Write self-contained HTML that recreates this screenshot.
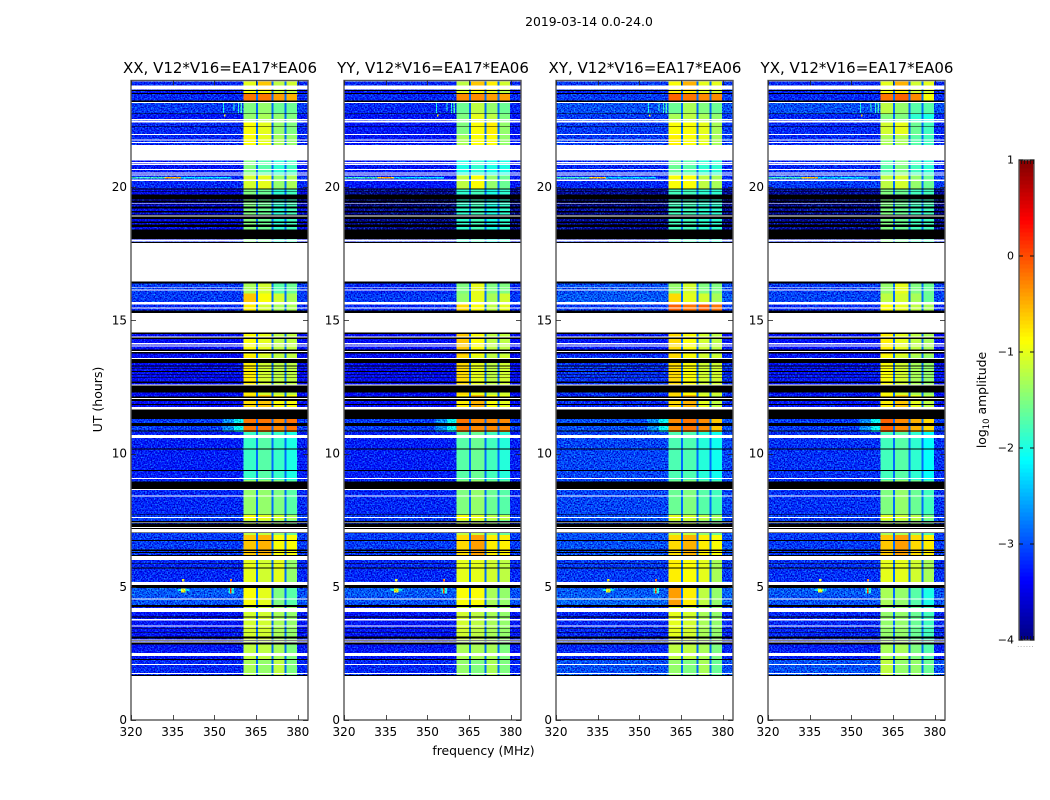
<!DOCTYPE html>
<html lang="en">
<head>
<meta charset="utf-8">
<title>2019-03-14 amplitude spectrogram</title>
<style>
html,body{margin:0;padding:0;background:#fff;}
svg{display:block;}
text{font-family:"DejaVu Sans","Liberation Sans",sans-serif;fill:#000;}
</style>
</head>
<body>
<svg id="fig" xmlns="http://www.w3.org/2000/svg" width="1050" height="800" viewBox="0 0 1050 800">
  <defs>
    <filter id="speckle" x="0" y="0" width="1" height="1" color-interpolation-filters="sRGB">
      <feTurbulence type="fractalNoise" baseFrequency="0.7" numOctaves="1" seed="7" result="n"/>
      <feColorMatrix in="n" type="matrix" values="0.4 0 0 0 0.3  1.5 0 0 0 -0.25  1.2 0 0 0 -0.1  0 0 0 0 1" result="g"/>
      <feComposite in="SourceGraphic" in2="g" operator="arithmetic" k1="0" k2="1" k3="1" k4="-0.5"/>
    </filter>
  </defs>
  <text x="589" y="26" font-size="12.4" text-anchor="middle">2019-03-14 0.0-24.0</text>
  <text x="0" y="0" font-size="12.5" text-anchor="middle" transform="translate(102,399.5) rotate(-90)">UT (hours)</text>
  <text x="483.5" y="755" font-size="12.4" text-anchor="middle">frequency (MHz)</text>
  <g id="panels"></g>
  <g id="colorbar"></g>
  <text font-size="12.4" text-anchor="middle" transform="translate(986,400) rotate(-90)">log<tspan dy="3" font-size="8.5">10</tspan><tspan dy="-3"> amplitude</tspan></text>
  <text x="1026" y="647" font-size="6" letter-spacing="1" text-anchor="middle" style="fill:#666">......</text>
</svg>
<script>
// ---------- chart data ----------
const panelNames = ['XX', 'YY', 'XY', 'YX'];
const baselineLabel = 'V12*V16=EA17*EA06';
const utTicks = [0, 5, 10, 15, 20];
const freqTicks = [320, 335, 350, 365, 380];
const cbarTicks = [-4, -3, -2, -1, 0, 1];
const stripeLevel = -2.85;

// UT-hour edges of the level spans, top to bottom
const spanEdgesUT = [23.96,23.81,23.63,23.51,23.21,22.76,22.50,21.94,21.56,21.00,20.44,19.95,18.00,16.46,16.01,15.68,15.38,14.51,13.69,12.19,11.70,11.33,10.80,9.00,7.69,7.50,6.94,6.00,5.06,4.31,3.00,2.25,1.65];
// sub-band frequency edges (MHz): start,end for each of the four bright sub-bands
const bandEdgesMHz = [[360.5,365],[365.7,370.5],[371.2,375.3],[375.9,379.8]];

// background log10 amplitude per span
const bgXX = [-3.2,-3.2,-3.3,-3.2,-3.1,-3.3,-3.2,-3.2,-3.2,-3.3,-3.2,-3.5,-3.2,-3.1,-3.1,-3.2,-3.2,-3.4,-3.4,-3.4,-3.4,-3.1,-3.25,-3.2,-3.1,-3.1,-3.1,-3.2,-3.0,-3.3,-3.3,-3.2];
const bgYY = [-3.2,-3.2,-3.3,-3.2,-3.2,-3.3,-3.3,-3.3,-3.3,-3.3,-3.3,-3.9,-3.2,-3.2,-3.1,-3.2,-3.2,-3.4,-3.4,-3.4,-3.4,-3.1,-3.25,-3.2,-3.1,-3.1,-3.1,-3.2,-3.0,-3.3,-3.3,-3.2];
const bgXY = [-3.1,-3.1,-3.2,-3.1,-3.0,-3.1,-3.1,-3.1,-3.1,-3.2,-3.2,-3.85,-3.2,-3.0,-2.95,-3.1,-3.1,-3.3,-3.15,-3.2,-3.2,-3.0,-3.05,-3.05,-3.0,-3.0,-3.0,-3.1,-2.9,-3.2,-3.2,-3.0];
const bgYX = [-3.2,-3.2,-3.2,-3.2,-3.0,-3.2,-3.2,-3.2,-3.2,-3.2,-3.1,-3.85,-3.2,-3.1,-3.05,-3.2,-3.2,-3.35,-3.3,-3.3,-3.3,-3.1,-3.15,-3.15,-3.1,-3.1,-3.1,-3.15,-3.0,-3.2,-3.25,-3.0];

// sub-band log10 amplitude per span: one [b1,b2,b3,b4] row per span
const bandsXX = [[-1.0,-0.6,-1.2,-1.1],[-1.0,-0.6,-1.2,-1.1],[-0.9,-0.9,-1.1,-1.2],[-0.2,-0.2,-0.4,-0.5],[-1.5,-1.4,-1.6,-1.6],[-1.4,-1.3,-1.4,-1.5],[-0.9,-1.0,-1.4,-1.5],[-0.9,-1.0,-1.3,-1.4],[-0.9,-1.0,-1.3,-1.4],[-1.5,-1.7,-1.9,-1.8],[-1.1,-1.0,-1.4,-1.3],[-1.5,-1.6,-1.9,-1.8],[-1.5,-1.6,-1.9,-1.8],[-1.3,-1.1,-1.7,-1.6],[-0.6,-0.9,-1.1,-1.3],[-0.8,-1.1,-1.3,-1.3],[-0.8,-1.1,-1.3,-1.3],[-0.9,-1.0,-1.2,-1.2],[-0.8,-1.1,-1.2,-1.2],[-0.7,-0.6,-0.9,-0.9],[-0.7,-0.6,-0.9,-0.9],[-0.2,-0.2,-0.3,-0.2],[-1.85,-1.7,-1.85,-2.0],[-1.4,-1.4,-1.5,-1.7],[-0.9,-1.0,-1.1,-1.3],[-1.2,-1.2,-1.4,-1.6],[-0.6,-0.5,-0.9,-0.9],[-1.0,-1.1,-1.0,-1.4],[-0.9,-1.0,-1.5,-1.7],[-1.1,-1.1,-1.3,-1.4],[-1.2,-1.2,-1.3,-1.5],[-1.3,-1.4,-1.2,-1.5]];
const bandsYY = [[-1.2,-0.6,-0.8,-1.1],[-1.2,-0.6,-0.8,-1.1],[-1.0,-0.9,-1.0,-1.2],[-0.3,-0.3,-0.4,-0.4],[-1.6,-1.2,-1.4,-1.6],[-1.5,-1.0,-1.2,-1.5],[-1.5,-0.9,-0.8,-1.4],[-1.3,-0.9,-0.9,-1.4],[-1.3,-0.9,-0.9,-1.4],[-2.0,-1.9,-2.0,-2.0],[-1.2,-0.9,-1.4,-1.6],[-1.9,-1.8,-2.0,-1.9],[-1.9,-1.8,-2.0,-1.9],[-1.5,-1.0,-1.5,-1.5],[-1.4,-1.0,-1.3,-1.1],[-0.7,-0.9,-1.2,-1.0],[-0.7,-0.9,-1.2,-1.0],[-0.6,-0.9,-1.2,-1.2],[-0.7,-1.0,-1.2,-1.1],[-0.8,-0.5,-0.9,-1.0],[-0.8,-0.5,-0.9,-1.0],[-0.2,-0.3,-0.3,-0.3],[-1.7,-1.6,-1.8,-1.95],[-1.5,-1.4,-1.6,-1.7],[-0.9,-1.0,-1.2,-1.2],[-1.2,-1.2,-1.4,-1.6],[-0.7,-0.4,-0.8,-0.8],[-1.0,-1.0,-1.1,-1.2],[-0.9,-0.9,-1.3,-1.4],[-1.1,-1.2,-1.3,-1.4],[-1.3,-1.3,-1.3,-1.5],[-1.4,-1.5,-1.3,-1.5]];
const bandsXY = [[-0.9,-0.5,-1.0,-1.0],[-0.9,-0.5,-1.0,-1.0],[-0.8,-0.8,-1.0,-1.1],[-0.1,-0.2,-0.3,-0.3],[-1.6,-1.3,-1.5,-1.6],[-1.3,-1.2,-1.3,-1.4],[-0.9,-0.9,-1.0,-1.3],[-0.8,-0.9,-1.0,-1.3],[-0.8,-0.9,-1.0,-1.3],[-1.6,-1.7,-1.9,-1.9],[-0.9,-0.9,-1.2,-1.3],[-1.8,-1.8,-1.9,-1.9],[-1.8,-1.8,-1.9,-1.9],[-1.4,-1.1,-1.5,-1.5],[-0.7,-1.0,-1.1,-1.3],[-0.1,-0.2,-0.1,-0.2],[-0.1,-0.2,-0.1,-0.2],[-0.7,-0.9,-1.1,-1.2],[-0.7,-0.9,-1.1,-1.1],[-0.7,-0.5,-1.0,-1.2],[-0.7,-0.5,-1.0,-1.2],[-0.3,-0.2,-0.3,-0.6],[-1.75,-1.75,-1.95,-2.05],[-1.6,-1.5,-1.7,-1.8],[-1.0,-1.1,-1.2,-1.3],[-1.2,-1.2,-1.4,-1.6],[-0.7,-0.5,-0.8,-0.9],[-0.8,-0.9,-1.0,-1.3],[-0.4,-0.8,-1.2,-1.4],[-1.0,-1.1,-1.3,-1.4],[-1.2,-1.2,-1.3,-1.5],[-1.4,-1.5,-1.3,-1.6]];
const bandsYX = [[-1.0,-0.5,-1.1,-1.0],[-1.0,-0.5,-1.1,-1.0],[-0.9,-0.8,-1.1,-1.1],[-0.2,-0.1,-0.3,-0.9],[-1.2,-1.4,-1.7,-1.7],[-1.5,-1.5,-1.9,-2.0],[-1.1,-1.0,-1.6,-1.8],[-1.3,-1.3,-1.7,-1.8],[-1.3,-1.3,-1.7,-1.8],[-1.7,-1.5,-1.8,-1.9],[-1.2,-1.1,-1.4,-1.6],[-1.5,-1.6,-1.8,-1.8],[-1.5,-1.6,-1.8,-1.8],[-1.4,-1.0,-1.5,-1.6],[-1.2,-1.1,-1.3,-1.6],[-0.9,-1.0,-1.2,-1.3],[-0.9,-1.0,-1.2,-1.3],[-0.8,-1.0,-1.2,-1.3],[-0.9,-1.1,-1.3,-1.4],[-0.8,-0.6,-1.0,-1.2],[-0.8,-0.6,-1.0,-1.2],[-0.1,-0.3,-0.5,-0.7],[-1.8,-1.7,-1.9,-2.1],[-1.5,-1.4,-1.6,-1.8],[-1.0,-1.1,-1.2,-1.5],[-1.3,-1.3,-1.4,-1.7],[-0.6,-0.4,-0.7,-0.8],[-1.0,-1.0,-1.1,-1.3],[-1.3,-1.4,-1.7,-2.0],[-1.4,-1.4,-1.6,-1.8],[-1.3,-1.3,-1.5,-1.7],[-1.2,-1.4,-1.4,-1.6]];

// masked (white) time ranges: [upperUT, lowerUT]
const maskedSpans = [[23.82,23.66],[23.19,23.15],[22.56,22.52],[22.50,22.43],[22.00,21.95],[21.79,21.75],[21.70,21.66],[21.57,21.00],[20.94,20.91],[20.88,20.82],[20.67,20.64],[20.55,20.51],[20.48,20.44],[20.28,20.22],[19.41,19.39],[18.93,18.90],[18.04,17.95],[17.90,16.45],[16.25,16.23],[16.15,16.11],[15.69,15.60],[15.48,15.44],[15.27,14.55],[14.39,14.35],[14.15,14.10],[14.05,14.01],[13.84,13.81],[13.59,13.55],[12.60,12.56],[12.08,12.04],[11.75,11.66],[10.69,10.59],[9.08,9.04],[8.66,8.63],[8.43,8.39],[7.61,7.59],[7.41,7.39],[7.24,7.21],[7.16,7.04],[6.15,6.00],[5.18,5.06],[4.56,4.53],[4.21,4.06],[3.79,3.74],[3.54,3.50],[3.03,2.99],[2.95,2.91],[2.51,2.40],[2.10,2.06],[1.77,1.73],[1.65,0]];
// zero-amplitude (black) time ranges: [upperUT, lowerUT]
const zeroSpans = [[23.65,23.60],[23.54,23.50],[23.25,23.19],[22.77,22.75],[22.30,22.28],[19.95,19.90],[19.85,19.84],[19.73,19.54],[19.49,19.43],[19.37,19.35],[19.28,19.19],[19.11,19.04],[18.98,18.94],[18.89,18.81],[18.70,18.66],[18.59,18.50],[18.40,18.05],[17.94,17.90],[16.45,16.39],[15.36,15.27],[14.55,14.48],[14.35,14.29],[13.91,13.84],[13.81,13.76],[13.55,13.40],[13.31,13.27],[13.21,13.19],[13.09,13.06],[12.99,12.96],[12.86,12.84],[12.70,12.64],[12.56,12.50],[12.49,12.30],[12.15,12.08],[12.04,11.97],[11.86,11.82],[11.65,11.30],[11.15,11.04],[10.86,10.83],[10.19,10.16],[9.38,9.35],[8.95,8.66],[7.74,7.71],[7.46,7.41],[7.38,7.25],[7.20,7.16],[7.04,7.01],[6.75,6.71],[6.40,6.35],[6.31,6.27],[6.20,6.16],[5.88,5.85],[5.73,5.69],[5.06,4.96],[4.31,4.24],[3.89,3.85],[3.44,3.41],[3.31,3.29],[3.14,3.06],[2.99,2.96],[2.90,2.84],[2.29,2.25],[1.68,1.65]];
// narrow interference features: [freqLo, freqHi, upperUT, lowerUT, level]
const rfiFeatures = [[320,360.5,4.96,4.65,-2.95],[338.3,339.3,5.30,5.19,-1.0],[336.8,341,4.92,4.84,-2.2],[338.0,339.6,4.93,4.78,-1.0],[355.6,356.3,5.30,5.19,-0.2],[355.0,357,4.96,4.75,-2.0],[355.7,356.2,4.96,4.75,0.1],[353.1,353.5,23.15,22.78,-2.0],[356.8,357.2,23.15,22.85,-1.9],[358.4,358.8,23.15,22.78,-1.9],[359.3,360.0,23.15,22.78,-1.8],[353,357,11.30,10.80,-2.7],[357,360.5,11.30,10.80,-2.1],[320,332,20.37,20.33,-1.8],[332,338,20.37,20.33,-0.6],[338,356,20.37,20.33,-2.3],[353.5,354,22.72,22.65,-0.8]];

const bgSeries = [bgXX, bgYY, bgXY, bgYX];
const bandSeries = [bandsXX, bandsYY, bandsXY, bandsYX];

// ---------- scales and helpers ----------
const NS = 'http://www.w3.org/2000/svg';
const LEVEL_MIN = -4, LEVEL_MAX = 1;
const plotTop = 80.5, plotBottom = 720, plotWidth = 177, pxPerMHz = 2.78;
const cbarTop = 160, cbarBottom = 640, cbarLeft = 1019, cbarRight = 1034;
const FREQ_MIN = 320;
const UT_MAX = 24;

function axesLeft(i) { return Math.round(131.3 + i * 212.35); }
function xScale(freq, i) { return axesLeft(i) + (freq - FREQ_MIN) * pxPerMHz; }
function yScale(ut) { return plotBottom - (ut / UT_MAX) * (plotBottom - plotTop); }
function cbarScale(level) { return cbarBottom - (level - LEVEL_MIN) / (LEVEL_MAX - LEVEL_MIN) * (cbarBottom - cbarTop); }

function jet(level) {
  const t = Math.max(0, Math.min(1, (level - LEVEL_MIN) / (LEVEL_MAX - LEVEL_MIN)));
  const c = v => Math.round(255 * Math.max(0, Math.min(1, v)));
  const r = 1.5 - Math.abs(4 * t - 3);
  const g = 1.5 - Math.abs(4 * t - 2);
  const b = 1.5 - Math.abs(4 * t - 1);
  return 'rgb(' + c(r) + ',' + c(g) + ',' + c(b) + ')';
}
function make(tag, attrs, parent) {
  const el = document.createElementNS(NS, tag);
  for (const k in attrs) el.setAttribute(k, attrs[k]);
  parent.appendChild(el);
  return el;
}
function cell(parent, x0, x1, u0, u1, fill, name) {
  const y0 = yScale(u0), y1 = yScale(u1);
  const r = make('rect', { x: x0, y: y0, width: Math.max(0, x1 - x0), height: Math.max(0, y1 - y0), fill: fill, 'shape-rendering': 'crispEdges' }, parent);
  
  
  return r;
}

// ---------- draw panels ----------
const panelsRoot = document.getElementById('panels');
panelNames.forEach(function (pname, i) {
  const left = axesLeft(i), right = left + plotWidth;
  const g = make('g', {}, panelsRoot);
  
  

  const bgLayer = make('g', { filter: 'url(#speckle)' }, g);
  
  
  const bandLayer = make('g', {}, g);
  
  
  const maskLayer = make('g', {}, g);
  
  

  bgSeries[i].forEach(function (level, s) {
    cell(bgLayer, left, right, spanEdgesUT[s], spanEdgesUT[s + 1], jet(level), 'background-cell');
  });
  rfiFeatures.forEach(function (f) {
    cell(bgLayer, xScale(f[0], i), xScale(f[1], i), f[2], f[3], jet(f[4]), 'interference-mark');
  });
  bandSeries[i].forEach(function (row, s) {
    const u0 = spanEdgesUT[s], u1 = spanEdgesUT[s + 1];
    cell(bandLayer, xScale(bandEdgesMHz[0][0], i), xScale(bandEdgesMHz[3][1], i), u0, u1, jet(stripeLevel), 'subband-gap');
    row.forEach(function (level, b) {
      cell(bandLayer, xScale(bandEdgesMHz[b][0], i), xScale(bandEdgesMHz[b][1], i), u0, u1, jet(level), 'subband-cell');
    });
  });
  zeroSpans.forEach(function (sp) {
    cell(maskLayer, left, right, sp[0], sp[1], '#000', 'zero-row');
  });
  maskedSpans.forEach(function (sp) {
    cell(maskLayer, left, right, sp[0], sp[1], '#fff', 'masked-row');
  });

  // frame
  const frame = make('rect', { x: left, y: plotTop, width: plotWidth, height: plotBottom - plotTop, fill: 'none', stroke: '#555', 'stroke-width': 1.4 }, g);
  
  

  // x ticks
  freqTicks.forEach(function (f) {
    const x = Math.round(xScale(f, i)) + 0.5;
    [[plotBottom, plotBottom - 5], [plotTop, plotTop + 5]].forEach(function (p) {
      const t = make('line', { x1: x, x2: x, y1: p[0], y2: p[1], stroke: '#222', 'stroke-width': 0.8 }, g);
      
      
    });
    const lab = make('text', { x: xScale(f, i), y: 736, 'font-size': 12, 'text-anchor': 'middle' }, g);
    lab.textContent = f;
    
    
  });
  // y ticks
  utTicks.forEach(function (u) {
    const y = Math.round(yScale(u)) + 0.5;
    [[left, left + 5], [right, right - 5]].forEach(function (p) {
      const t = make('line', { x1: p[0], x2: p[1], y1: y, y2: y, stroke: '#222', 'stroke-width': 0.8 }, g);
      
      
    });
    const lab = make('text', { x: left - 4, y: yScale(u) + 4, 'font-size': 12, 'text-anchor': 'end' }, g);
    lab.textContent = u;
    
    
  });
  const title = make('text', { x: left + plotWidth / 2 + 0.5, y: 73, 'font-size': 15, 'text-anchor': 'middle' }, g);
  title.textContent = pname + ', ' + baselineLabel;
  
  
});

// ---------- colorbar ----------
const cb = document.getElementById('colorbar');
const cbSteps = 120;
for (let k = 0; k < cbSteps; k++) {
  const lo = LEVEL_MIN + (LEVEL_MAX - LEVEL_MIN) * k / cbSteps;
  const hi = LEVEL_MIN + (LEVEL_MAX - LEVEL_MIN) * (k + 1) / cbSteps;
  const r = make('rect', { x: cbarLeft, y: cbarScale(hi), width: cbarRight - cbarLeft, height: cbarScale(lo) - cbarScale(hi) + 0.5, fill: jet((lo + hi) / 2), 'shape-rendering': 'crispEdges' }, cb);
  
  
}
const cbFrame = make('rect', { x: cbarLeft, y: cbarTop, width: cbarRight - cbarLeft, height: cbarBottom - cbarTop, fill: 'none', stroke: '#555', 'stroke-width': 1.4 }, cb);


cbarTicks.forEach(function (v) {
  const y = cbarScale(v);
  [[cbarLeft, cbarLeft + 4], [cbarRight, cbarRight - 4]].forEach(function (p) {
    const t = make('line', { x1: p[0], x2: p[1], y1: y, y2: y, stroke: '#111', 'stroke-width': 1 }, cb);
    
    
  });
  const lab = make('text', { x: cbarLeft - 5, y: y + 3.5, 'font-size': 11, 'text-anchor': 'end' }, cb);
  lab.textContent = String(v).replace('-', '\u2212');
  
  
});
[cbarTop, cbarBottom].forEach(function (edge) {
  const dir = edge === cbarTop ? 1 : -1;
  for (let x = cbarLeft + 2.5; x < cbarRight; x += 3) {
    const t = make('line', { x1: x, x2: x, y1: edge, y2: edge + dir * 4, stroke: '#111', 'stroke-width': 0.8 }, cb);
    
    
  }
});
</script>
</body>
</html>
